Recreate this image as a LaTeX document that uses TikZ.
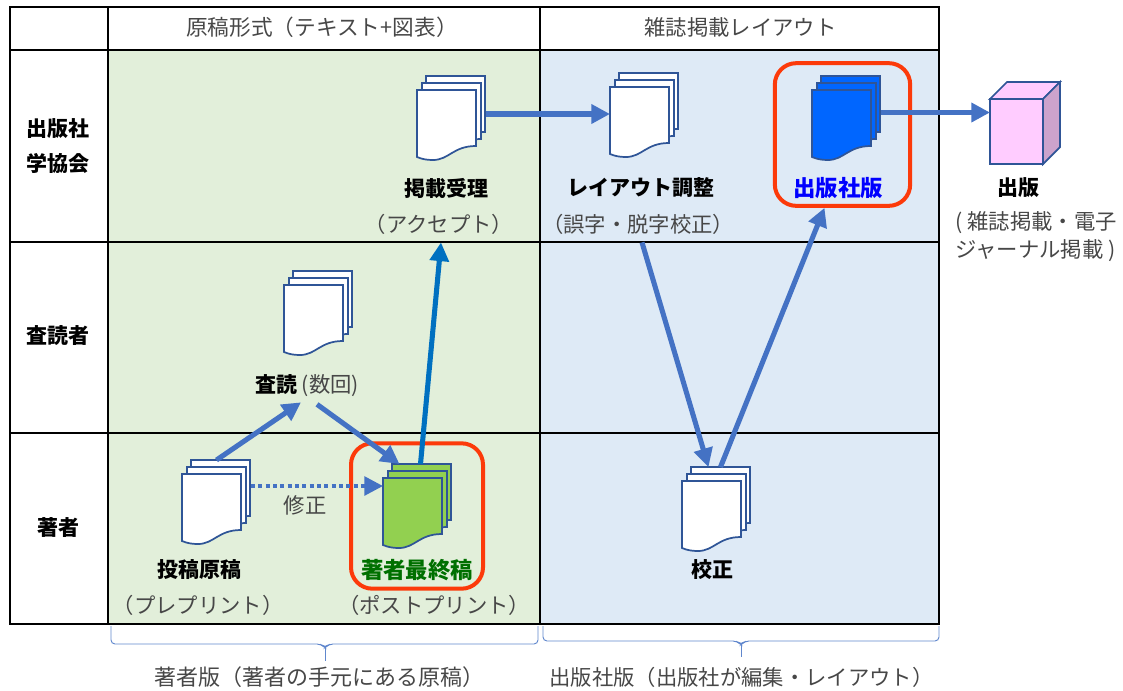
\documentclass[tikz,border=0pt]{standalone}
\usepackage{fontspec}
\setmainfont{Noto Sans CJK JP}
\usetikzlibrary{arrows.meta}
\definecolor{greencell}{HTML}{E2EFDA}
\definecolor{bluecell}{HTML}{DEEAF6}
\definecolor{pageline}{HTML}{2F5597}
\definecolor{arrowblue}{HTML}{4472C4}
\definecolor{acceptblue}{HTML}{0070C0}
\definecolor{redframe}{HTML}{FC3A0A}
\definecolor{authorgreen}{HTML}{92D050}
\definecolor{publisherblue}{HTML}{0066FF}
\definecolor{labelgreen}{HTML}{007000}
\definecolor{cubefront}{HTML}{FFCCFF}
\definecolor{cubeside}{HTML}{CCA3CC}
\tikzset{
  grid/.style={line width=1.5pt,black},
  page/.style={line width=1.3pt,draw=pageline},
  docbox/.style={minimum width=51.75pt,minimum height=63pt,inner sep=0pt,outer sep=0pt},
  plain/.style={font=\fontsize{16}{21}\selectfont,text=black!72,inner sep=0pt,align=center},
  strong/.style={font=\fontsize{15.75}{26}\selectfont\bfseries,text=black,inner sep=0pt,align=center},
  flow/.style={line width=3.8pt,arrowblue,-{Triangle[length=14pt,width=14pt]}},
  redbox/.style={draw=redframe,line width=3pt,rounded corners=16pt,inner sep=0pt},
  bracket/.style={line width=.7pt,arrowblue!85,rounded corners=3pt}
}
\newcommand{\docstack}[4]{%
  \begin{scope}[shift={(#2,#3)}]
    \foreach \dx/\dy in {9/0,5/7,0/14}
      \draw[page,fill=#4,shift={(\dx,\dy)}] (0,0) -- (59,0) -- (59,56) .. controls (36,56) and (32,70) .. (16,70) .. controls (9,70) and (5,69) .. (0,67) -- cycle;
    \node (#1) at (34.5,42) [docbox] {};
  \end{scope}}
\begin{document}
\begin{tikzpicture}[x=.75pt,y=-.75pt]
\useasboundingbox (0,0) rectangle (1123,690);
\fill[greencell] (108,50) rectangle (540,624);
\fill[bluecell] (540,50) rectangle (939,624);
\draw[grid] (10,7) rectangle (939,624);
\draw[grid] (108,7) -- (108,624);
\draw[grid] (540,7) -- (540,624);
\draw[grid] (10,50) -- (939,50);
\draw[grid] (10,242) -- (939,242);
\draw[grid] (10,433) -- (939,433);
\node (authorbox) at (417,516) [redbox,minimum width=99pt,minimum height=109pt] {};
\node (publisherbox) at (842.5,134.5) [redbox,minimum width=101.5pt,minimum height=107pt] {};
\node (headleft) at (322,27) [plain,font=\fontsize{16.25}{21}\selectfont] {原稿形式（テキスト+図表）};
\node (headright) at (740.5,27) [plain] {雑誌掲載レイアウト};
\node (rowpublisher) at (58,146) [strong] {出版社\\学協会};
\node (rowreviewer) at (58,336) [strong] {査読者};
\node (rowauthor) at (58,528) [strong] {著者};
\docstack{docaccept}{417}{76}{white}
\docstack{doclayout}{610}{73}{white}
\docstack{docpublisher}{812}{76}{publisherblue}
\docstack{docreview}{284}{271}{white}
\docstack{docdraft}{182}{460}{white}
\docstack{docfinal}{383}{464}{authorgreen}
\docstack{docproof}{682}{467}{white}
\node (cube) at (1016.5,131.5) [draw=pageline,line width=1.3pt,fill=cubefront,minimum width=39.75pt,minimum height=48.75pt,inner sep=0pt,outer sep=0pt] {};
\draw[page,fill=cubefront] (cube.north west) -- ++(17,-17) -- ++(53,0) -- (cube.north east) -- cycle;
\draw[page,fill=cubeside] (cube.north east) -- ++(17,-17) -- ++(0,65) -- (cube.south east) -- cycle;
\node (accepttitle) at (446,188) [strong] {掲載受理};
\node (acceptnote) at (439,224) [plain] {（アクセプト）};
\node (layouttitle) at (641,188) [strong] {レイアウト調整};
\node (layoutnote) at (638,224) [plain] {（誤字・脱字校正）};
\node (publishertitle) at (838,188) [strong,text=blue,font=\fontsize{16.8}{20}\selectfont\bfseries] {出版社版};
\node (pubtitle) at (1018,188) [strong] {出版};
\node (pubnote) at (1036,237) [plain,align=left] {( 雑誌掲載・電子\\ジャーナル掲載 )};
\node (reviewtitle) at (307,386) [plain] {{\fontsize{15.75}{20}\selectfont\bfseries\color{black}査読} (数回)};
\node (fixnote) at (305,505) [plain] {修正};
\node (drafttitle) at (199,570) [strong] {投稿原稿};
\node (draftnote) at (198,605) [plain] {（プレプリント）};
\node (finaltitle) at (417,570) [strong,text=labelgreen,font=\fontsize{16.8}{20}\selectfont\bfseries] {著者最終稿};
\node (finalnote) at (434,605) [plain] {（ポストプリント）};
\node (prooftitle) at (712,570) [strong] {校正};
\node (bracketleft) at (319.5,677) [plain,font=\fontsize{16.5}{21}\selectfont] {著者版（著者の手元にある原稿）};
\node (bracketright) at (741.5,677) [plain] {出版社版（出版社が編集・レイアウト）};
\draw[bracket] (111,626) -- (111,644) -- (321,644) -- (325,648) -- (329,644) -- (538,644) -- (538,626);
\draw[bracket] (325,647) -- (325,661);
\draw[bracket] (543,626) -- (543,641) -- (737,641) -- (741,645) -- (745,641) -- (939,641) -- (939,626);
\draw[bracket] (741,644) -- (741,657);
\draw[flow] ([shift={(0,-4)}]docaccept.east) -- ([shift={(0,-1)}]doclayout.west);
\draw[flow] ([shift={(0,-5.5)}]docpublisher.east) -- ([shift={(0,-19)}]cube.west);
\draw[flow] (docdraft.north) -- ([shift={(-6,5)}]reviewtitle.south);
\draw[flow] ([shift={(10,7)}]reviewtitle.south) -- ([shift={(-18,0)}]docfinal.north);
\draw[flow,line width=2.8pt,dash pattern=on 3pt off 2.5pt] ([shift={(0,-16)}]docdraft.east) -- ([shift={(0,-20)}]docfinal.west);
\draw[flow,acceptblue] ([shift={(3,0)}]docfinal.north) -- ([shift={(2,8)}]acceptnote.south);
\draw[flow] ([shift={(4,8)}]layoutnote.south) -- ([shift={(-8,0)}]docproof.north);
\draw[flow] ([shift={(4,0)}]docproof.north) -- ([shift={(-18,0)}]publisherbox.south);
\end{tikzpicture}
\end{document}
